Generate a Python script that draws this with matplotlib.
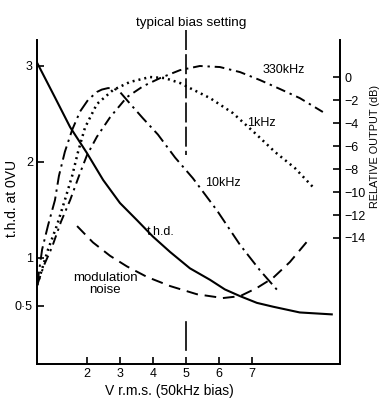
import matplotlib
matplotlib.use('Agg')
import matplotlib.pyplot as plt

plt.rcParams.update({'font.size': 9, 'font.family': ['Liberation Sans', 'DejaVu Sans']})

# t.h.d. (left axis) vs V r.m.s.
thd_x = [0.49, 1.03, 1.49, 2.0, 2.49, 3.0, 3.52, 4.0, 4.52, 5.12, 5.73, 6.18, 6.64,
         7.15, 7.64, 8.45, 9.42]
thd_y = [3.03, 2.67, 2.36, 2.09, 1.81, 1.57, 1.39, 1.22, 1.06, 0.89, 0.77, 0.67, 0.60,
         0.53, 0.49, 0.43, 0.41]

# modulation noise (left axis)
mod_x = [1.70, 2.18, 2.70, 3.21, 3.82, 4.52, 5.33, 6.12, 6.64, 7.15, 7.64, 8.15, 8.76]
mod_y = [1.33, 1.16, 1.02, 0.91, 0.80, 0.705, 0.62, 0.58, 0.60, 0.685, 0.79, 0.955, 1.205]

# relative output, dB (right axis)
khz330_x = [0.49, 0.70, 0.94, 1.21, 1.49, 1.79, 2.0, 2.30, 2.70, 3.21, 3.70, 4.21,
            4.82, 5.42, 6.03, 6.64, 7.24, 7.85, 8.45, 9.15]
khz330_y = [-18.1, -16.35, -14.8, -12.6, -10.7, -8.35, -6.8, -5.2, -3.5, -1.75, -0.8, -0.1,
            0.6, 0.96, 0.87, 0.43, -0.26, -1.04, -1.83, -3.04]

khz1_x = [0.49, 0.82, 1.09, 1.33, 1.55, 1.73, 1.94, 2.30, 2.79, 3.30, 3.91, 4.36,
          4.82, 5.12, 5.73, 6.42, 7.09, 7.70, 8.30, 8.85]
khz1_y = [-18.1, -15.0, -12.9, -10.7, -8.6, -6.5, -4.4, -2.35, -1.13, -0.43, 0.0, -0.09,
          -0.52, -0.96, -1.83, -3.13, -4.87, -6.52, -7.91, -9.57]

khz10_x = [0.49, 0.64, 0.82, 1.03, 1.15, 1.33, 1.55, 1.79, 2.03, 2.30, 2.45, 2.64,
           2.82, 3.0, 3.30, 3.70, 4.15, 4.67, 5.21, 5.94, 6.64, 7.24, 7.85]
khz10_y = [-18.1, -15.0, -12.9, -10.7, -8.6, -6.5, -4.6, -3.0, -2.0, -1.3, -1.09, -0.96,
           -1.0, -1.3, -2.3, -3.6, -5.0, -7.0, -8.8, -11.6, -14.6, -16.8, -18.8]

bias = 5
xticks = [2, 3, 4, 5, 6, 7]
lticks = [0.5, 1, 2, 3]
lticklabels = ['0·5', '1', '2', '3']
rticks = [0, -2, -4, -6, -8, -10, -12, -14]

fig = plt.figure(figsize=(3.91, 3.99), dpi=100)
ax = fig.add_axes([0.0946, 0.0877, 0.775, 0.812])
ax2 = ax.twinx()

ax.plot(thd_x, thd_y, color='black', lw=1.5)
ax.plot(mod_x, mod_y, color='black', lw=1.4, dashes=(6, 3.5))
ax2.plot(khz330_x, khz330_y, color='black', lw=1.4, dashes=(5, 2.5, 1.2, 2.5))
ax2.plot(khz1_x, khz1_y, color='black', lw=1.8, dashes=(0.8, 1.6))
ax2.plot(khz10_x, khz10_y, color='black', lw=1.4, dashes=(7, 2.5, 1.2, 2.5))

# typical bias line
ax.plot([bias, bias], [3.37, 2.07], color='black', lw=1.2, dashes=(12, 2.5), clip_on=False)
ax.plot([bias, bias], [0.04, 0.33], color='black', lw=1.2, clip_on=False)

ax.set_xlim(0.485, 9.67)
ax.set_ylim(-0.107, 3.268)
ax2.set_ylim(-24.96, 3.22)

ax.set_xticks(xticks)
ax.set_yticks(lticks)
ax.set_yticklabels(lticklabels)
ax2.set_yticks(rticks)
ax2.set_yticklabels([str(t).replace('-', '−') for t in rticks])

for a in (ax, ax2):
    a.spines['top'].set_visible(False)
    a.spines['left'].set_linewidth(1.3)
    a.spines['right'].set_linewidth(1.3)
    a.spines['bottom'].set_linewidth(1.3)
ax.tick_params(axis='both', direction='in', length=5, width=1.2, pad=3)
ax2.tick_params(axis='y', direction='in', length=5, width=1.2, pad=3)

ax.set_ylabel('t.h.d. at 0VU', fontsize=10, va='center')
ax.yaxis.set_label_coords(-0.082, 0.51)
ax2.set_ylabel('RELATIVE OUTPUT (dB)', fontsize=7.8, va='center')
ax2.yaxis.set_label_coords(1.114, 0.67)
ax.set_xlabel('V r.m.s. (50kHz bias)', fontsize=10, va='center')
ax.xaxis.set_label_coords(0.436, -0.083)
fig.text(0.49, 0.942, 'typical bias setting', ha='center', va='center', fontsize=9.7)

ax2.text(7.97, 0.6, '330kHz', ha='center', va='center')
ax2.text(7.3, -4.0, '1kHz', ha='center', va='center')
ax2.text(6.12, -9.2, '10kHz', ha='center', va='center')
ax.text(4.24, 1.27, 't.h.d.', ha='center', va='center')
ax.text(2.55, 0.725, 'modulation\nnoise', ha='center', va='center', linespacing=0.95,
        fontsize=9.5)

fig.savefig('out.png', dpi=100)
